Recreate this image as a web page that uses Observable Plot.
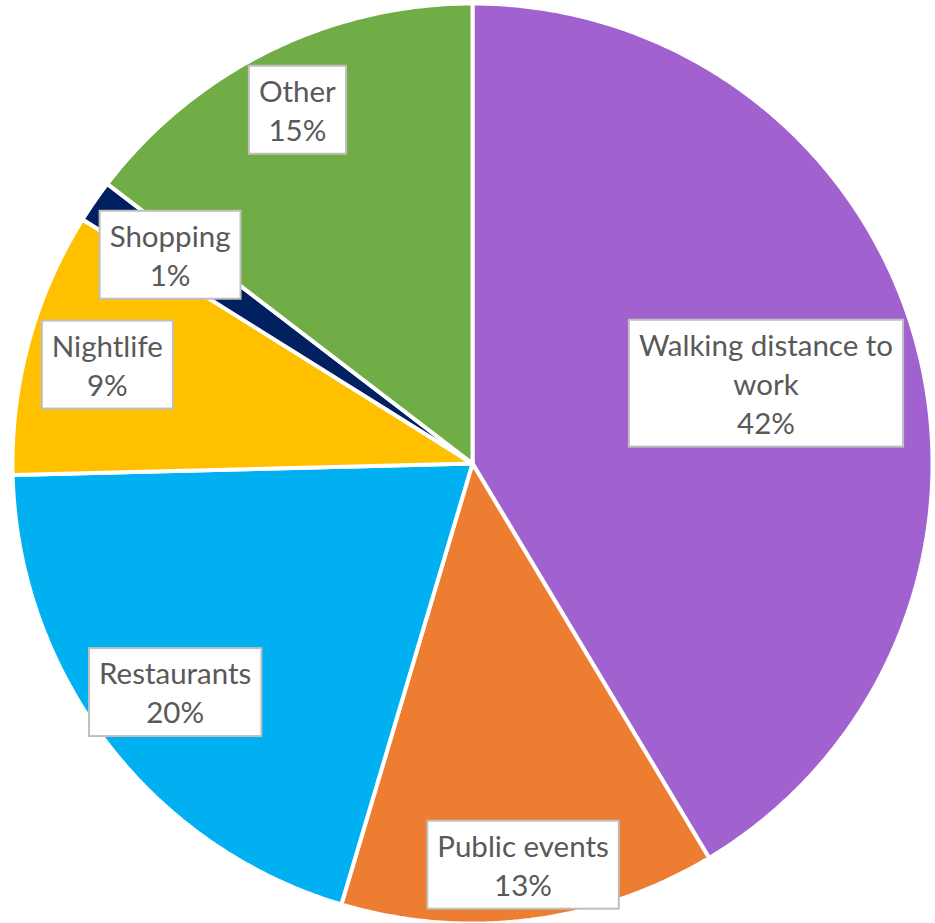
<!DOCTYPE html>
<html><head><meta charset="utf-8">
<script src="https://cdn.jsdelivr.net/npm/d3@7"></script>
<script src="https://cdn.jsdelivr.net/npm/@observablehq/plot@0.6"></script>
<style>html,body{margin:0;padding:0;background:#fff}</style>
</head><body><div id="chart"></div>
<script>
const categories = ["Walking distance to work","Public events","Restaurants","Nightlife","Shopping","Other"];
const labelLines = ["Walking distance to\nwork","Public events","Restaurants","Nightlife","Shopping","Other"];
const values = [41.4, 13.2, 20.0, 9.3, 1.5, 14.6];
const pctLabels = ["42%","13%","20%","9%","1%","15%"];
const colors = ["#A162D0","#ED7D31","#00B0F0","#FFC000","#002060","#70AD47"];
// layout only: label distance from centre as a fraction of the radius
const labelRadius = [0.662, 0.877, 0.814, 0.823, 0.80, 0.86];

const total = d3.sum(values);
const arcs = [];
let cum = 0;
values.forEach((v, i) => {
  const a0 = cum / total * 2 * Math.PI; cum += v;
  const a1 = cum / total * 2 * Math.PI;
  arcs.push({i, a0, a1});
});
const slicePts = arcs.flatMap(({i, a0, a1}) => {
  const n = Math.max(2, Math.ceil((a1 - a0) / (Math.PI / 360)));
  const pts = [{cat: categories[i], x: 0, y: 0}];
  for (let k = 0; k <= n; k++) {
    const a = a0 + (a1 - a0) * k / n;
    pts.push({cat: categories[i], x: Math.sin(a), y: Math.cos(a)});
  }
  pts.push({cat: categories[i], x: 0, y: 0});
  return pts;
});
const labels = arcs.map(({i, a0, a1}) => {
  const m = (a0 + a1) / 2, r = labelRadius[i];
  return {x: r * Math.sin(m), y: r * Math.cos(m), text: labelLines[i] + "\n" + pctLabels[i]};
});

const plot = Plot.plot({
  width: 935, height: 923,
  marginLeft: 12, marginRight: 3, marginTop: 3, marginBottom: 0,
  x: {domain: [-1, 1], axis: null},
  y: {domain: [-1, 1], axis: null},
  color: {domain: categories, range: colors},
  style: {fontFamily: "Lato, 'Open Sans', sans-serif", background: "white"},
  marks: [
    Plot.line(slicePts, {x: "x", y: "y", z: "cat", fill: "cat", stroke: "white", strokeWidth: 4, strokeLinejoin: "miter"}),
    Plot.text(labels, {x: "x", y: "y", text: "text", fontSize: 29.5, lineHeight: 1.32, fill: "#595959", className: "pie-label"})
  ]
});
document.getElementById("chart").appendChild(plot);

const ns = "http://www.w3.org/2000/svg";
plot.querySelectorAll("g.pie-label text").forEach(t => {
  const bb = t.getBBox();
  const r = document.createElementNS(ns, "rect");
  r.setAttribute("x", bb.x - 10);
  r.setAttribute("y", bb.y - 7);
  r.setAttribute("width", bb.width + 20);
  r.setAttribute("height", bb.height + 14);
  r.setAttribute("fill", "white");
  r.setAttribute("stroke", "#BFBFBF");
  r.setAttribute("stroke-width", 2);
  const tr = t.getAttribute("transform");
  if (tr) r.setAttribute("transform", tr);
  t.parentNode.insertBefore(r, t);
});
</script>
</body></html>
